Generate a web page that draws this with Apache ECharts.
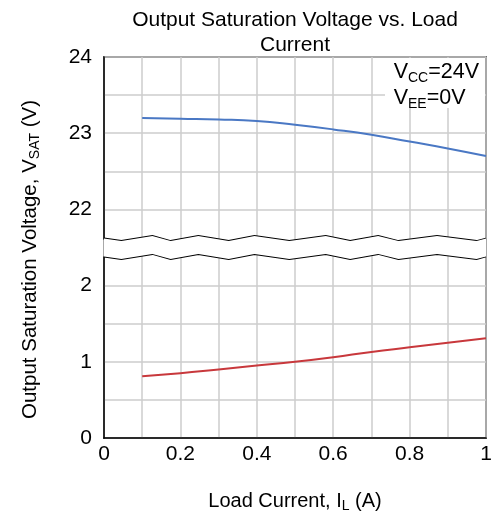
<!DOCTYPE html>
<html>
<head>
<meta charset="utf-8">
<script src="https://cdn.jsdelivr.net/npm/echarts@6/dist/echarts.min.js"></script>
<style>
html, body { margin: 0; padding: 0; background: #fff; }
#main { width: 492px; height: 520px; }
</style>
</head>
<body>
<div id="main"></div>
<script>
// 负载电流 (A)
var loadCurrent = [0.1, 0.2, 0.3, 0.4, 0.5, 0.6, 0.7, 0.8, 0.9, 1.0];
// 高电平输出饱和电压 (V)
var vsatHigh = [23.2, 23.19, 23.18, 23.16, 23.11, 23.05, 22.98, 22.89, 22.8, 22.7];
// 低电平输出饱和电压 (V)
var vsatLow = [0.81, 0.85, 0.9, 0.95, 1.0, 1.06, 1.13, 1.19, 1.25, 1.31];
var yTicks = [0, 1, 2, 22, 23, 24];

function pairs(xs, ys) {
    var out = [];
    for (var i = 0; i < xs.length; i++) {
        out.push([xs[i], ys[i]]);
    }
    return out;
}

var font = 'Liberation Sans, Arial, sans-serif';
var myChart = echarts.init(document.getElementById('main'));

var option = {
    backgroundColor: '#fff',
    animation: false,
    title: {
        text: 'Output Saturation Voltage vs. Load\nCurrent',
        left: 290,
        textAlign: 'center',
        top: 3,
        textStyle: { fontFamily: font, fontSize: 21, fontWeight: 'normal', color: '#000', lineHeight: 25 }
    },
    grid: {
        left: 104, right: 6, top: 57, bottom: 82,
        outerBoundsMode: 'none',
        show: true, borderColor: '#000', borderWidth: 1.5
    },
    xAxis: {
        type: 'value',
        min: 0, max: 1, interval: 0.1,
        name: '{n|Load Current, I}{s|L}{n| (A)}',
        nameLocation: 'middle',
        nameGap: 52,
        nameTextStyle: {
            rich: {
                n: { fontFamily: font, fontSize: 20, color: '#000' },
                s: { fontFamily: font, fontSize: 14, color: '#000', verticalAlign: 'bottom', padding: [9, 0, 0, 0] }
            }
        },
        axisLine: { lineStyle: { color: '#000', width: 1.5 } },
        axisTick: { show: false },
        axisLabel: {
            fontFamily: font, fontSize: 21, color: '#000', margin: 6,
            formatter: function (v) {
                var k = Math.round(v * 10);
                return k % 2 === 0 ? String(k / 10) : '';
            }
        },
        splitLine: { show: true, lineStyle: { color: '#cccccc', width: 1.5 } }
    },
    yAxis: {
        type: 'value',
        min: 0, max: 24, interval: 0.5,
        breaks: [{ start: 2.38, end: 21.62, gap: 0.24 }],
        breakArea: {
            show: true,
            itemStyle: { color: '#fff', borderColor: '#000', borderWidth: 1.8, borderType: 'solid', opacity: 1 },
            zigzagAmplitude: 2.5,
            zigzagMinSpan: 15,
            zigzagMaxSpan: 40,
            expandOnClick: false
        },
        name: '{n|Output Saturation Voltage, V}{s|SAT}{n| (V)}',
        nameLocation: 'middle',
        nameGap: 62,
        nameTextStyle: {
            padding: [0, 24, 0, 0],
            rich: {
                n: { fontFamily: font, fontSize: 20.5, color: '#000' },
                s: { fontFamily: font, fontSize: 14, color: '#000', verticalAlign: 'bottom', padding: [9, 0, 0, 0] }
            }
        },
        axisLine: { show: true, lineStyle: { color: '#000', width: 1.5 } },
        axisTick: { show: false },
        axisLabel: {
            fontFamily: font, fontSize: 21, color: '#000', margin: 12,
            formatter: function (v) {
                for (var i = 0; i < yTicks.length; i++) {
                    if (Math.abs(v - yTicks[i]) < 1e-6) return String(yTicks[i]);
                }
                return '';
            }
        },
        splitLine: { show: true, lineStyle: { color: '#cccccc', width: 1.5 } }
    },
    graphic: [{
        type: 'rect',
        right: 7,
        top: 58,
        shape: { width: 100, height: 50 },
        style: { fill: '#fff' },
        z: 50
    }, {
        type: 'text',
        right: 13,
        top: 61,
        z: 51,
        style: {
            text: '{n|V}{s|CC}{n|=24V}\n{n|V}{s|EE}{n|=0V}',
            rich: {
                n: { fontFamily: font, fontSize: 21.5, color: '#000', lineHeight: 26 },
                s: { fontFamily: font, fontSize: 14, color: '#000', verticalAlign: 'bottom', padding: [8, 0, 0, 0], lineHeight: 26 }
            }
        }
    }],
    series: [{
        type: 'line',
        data: pairs(loadCurrent, vsatHigh),
        symbol: 'none',
        smooth: true,
        lineStyle: { color: '#4a78c4', width: 2 }
    }, {
        type: 'line',
        data: pairs(loadCurrent, vsatLow),
        symbol: 'none',
        smooth: true,
        lineStyle: { color: '#c8383c', width: 2 }
    }]
};

myChart.setOption(option);
</script>
</body>
</html>
